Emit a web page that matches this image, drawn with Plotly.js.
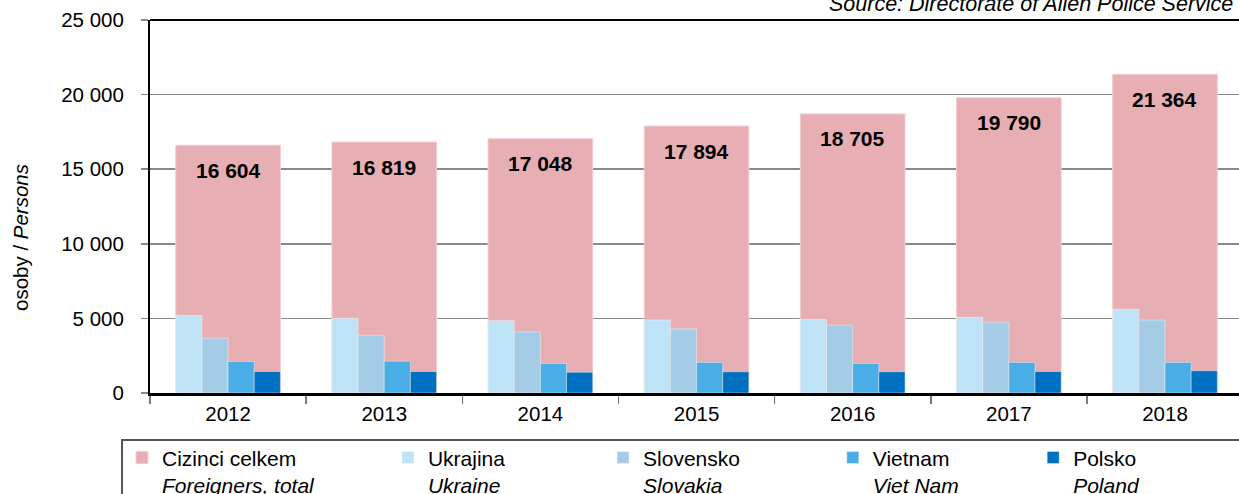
<!DOCTYPE html>
<html>
<head>
<meta charset="utf-8">
<script src="https://cdn.plot.ly/plotly-3.0.1.min.js"></script>
<style>html,body{margin:0;padding:0;background:#fff;}#chart{width:1239px;height:494px;}</style>
</head>
<body>
<div id="chart"></div>
<script>
const years = ['2012','2013','2014','2015','2016','2017','2018'];
const total = [16604, 16819, 17048, 17894, 18705, 19790, 21364];
const ukraine = [5200, 5000, 4840, 4900, 4930, 5070, 5610];
const slovakia = [3670, 3870, 4100, 4300, 4550, 4750, 4890];
const vietnam = [2110, 2130, 1980, 2050, 1980, 2050, 2050];
const poland = [1440, 1440, 1390, 1420, 1420, 1440, 1490];

const seriesCz = ['Cizinci celkem','Ukrajina','Slovensko','Vietnam','Polsko'];
const seriesEn = ['Foreigners, total','Ukraine','Slovakia','Viet Nam','Poland'];
const colors = ['#E7AFB3','#BFE3F6','#A5CCE6','#49AEE6','#0070C0'];

const FONT = 'Liberation Sans, Arial, sans-serif';
const fmt = n => String(n).replace(/\B(?=(\d{3})+(?!\d))/g, ' ');

const small = [ukraine, slovakia, vietnam, poland];
const w = 0.1675;
const legendIds = ['legend','legend2','legend3','legend4','legend5'];
const legendX = [-0.0257, 0.2185, 0.416, 0.627, 0.811];

const traces = [{
  type: 'bar', x: years, y: total, width: 0.67, offset: -0.335,
  marker: {color: colors[0], line: {color: '#F2CDD0', width: 1}},
  name: seriesCz[0] + '<br><i>' + seriesEn[0] + '</i>',
  legend: legendIds[0], hoverinfo: 'y'
}];
small.forEach((arr, i) => {
  traces.push({
    type: 'bar', x: years, y: arr, width: w, offset: -0.335 + i * w,
    marker: {color: colors[i + 1], line: {color: 'rgba(255,255,255,0.4)', width: 1}},
    name: seriesCz[i + 1] + '<br><i>' + seriesEn[i + 1] + '</i>',
    legend: legendIds[i + 1], hoverinfo: 'y'
  });
});

const layout = {
  width: 1239, height: 494,
  margin: {l: 150, r: 0, t: 20, b: 101, autoexpand: false},
  paper_bgcolor: '#fff', plot_bgcolor: '#fff',
  barmode: 'overlay',
  separators: ', ',
  font: {family: FONT, size: 20.5, color: '#000'},
  showlegend: true,
  xaxis: {
    type: 'category', range: [-0.5, 6.474],
    showline: true, linecolor: '#000', linewidth: 3,
    ticks: 'outside', tickson: 'boundaries', ticklen: 8, tickcolor: '#777', tickwidth: 1.5,
    showgrid: false, tickfont: {size: 20.5}, fixedrange: true
  },
  yaxis: {
    range: [0, 25000], dtick: 5000, tickformat: ',d',
    showline: true, linecolor: '#000', linewidth: 2,
    ticks: 'outside', ticklen: 7, tickcolor: '#888', tickwidth: 1.5,
    ticklabelstandoff: 13,
    showgrid: true, gridcolor: '#8a8a8a', gridwidth: 1.5,
    zeroline: false, automargin: false,
    tickfont: {size: 20.5}, fixedrange: true
  },
  shapes: [
    {type: 'line', xref: 'paper', yref: 'paper', x0: 0, x1: 1.01, y0: 1, y1: 1, line: {color: '#000', width: 2}},
    {type: 'rect', xref: 'paper', yref: 'paper', x0: -0.0257, x1: 1.05, y0: -0.5, y1: -0.126, line: {color: '#555', width: 2}}
  ],
  annotations: total.map((v, i) => ({
    x: i, y: v, xref: 'x', yref: 'y', text: '<b>' + fmt(v) + '</b>',
    showarrow: false, yanchor: 'middle', yshift: -25, font: {size: 21, color: '#000'}
  })).concat([{
    xref: 'paper', yref: 'paper', x: 0.9963, y: 1 + (20 - 4) / 373, xanchor: 'right', yanchor: 'middle',
    text: '<i>Source: Directorate of Alien Police Service</i>', showarrow: false, font: {size: 21.5}
  }, {
    xref: 'paper', yref: 'paper', x: (21 - 150) / 1089, y: (393 - 238) / 373, xanchor: 'center', yanchor: 'middle',
    text: 'osoby / <i>Persons</i>', textangle: -90, showarrow: false, font: {size: 20.5}
  }])
};
legendIds.forEach((id, i) => {
  layout[id] = {
    x: legendX[i], xanchor: 'left', y: -0.119, yanchor: 'top',
    bgcolor: 'rgba(0,0,0,0)', borderwidth: 0, valign: 'top',
    font: {size: 21, family: FONT}, tracegroupgap: 0
  };
});

Plotly.newPlot('chart', traces, layout, {displayModeBar: false, staticPlot: true});
</script>
</body>
</html>
